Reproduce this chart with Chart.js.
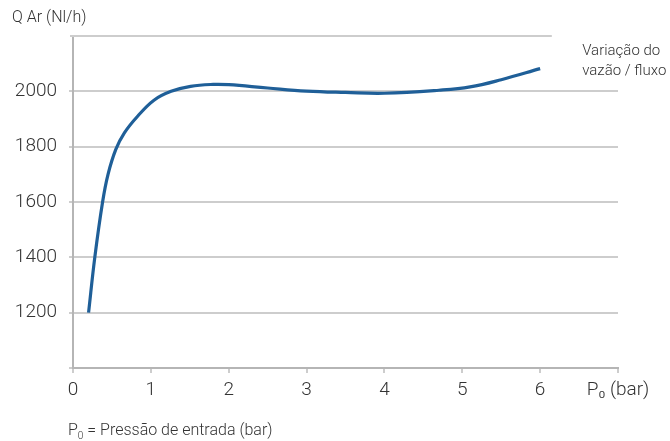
<!DOCTYPE html>
<html>
<head>
<meta charset="utf-8">
<script src="https://cdn.jsdelivr.net/npm/chart.js@4"></script>
<style>
  body { margin: 0; background: #fff; }
  #wrap { width: 670px; height: 441px; }
</style>
</head>
<body>
<div id="wrap"><canvas id="myChart" width="670" height="441"></canvas></div>
<script>
// pressure P0 (bar) vs air flow Q (Nl/h)
const pressure = [0.2, 0.28, 0.38, 0.45, 0.55, 0.66, 0.83, 1.04, 1.26, 1.51, 1.8, 2, 2.5, 3, 3.5, 4, 4.7, 5.1, 5.5, 6]
const flow = [1200, 1400, 1600, 1700, 1790, 1850, 1910, 1968, 2000, 2018, 2025, 2024, 2012, 2001, 1996, 1993, 2004, 2016, 2042, 2082]
const yLabels = [1200, 1400, 1600, 1800, 2000]
const xLabels = [0, 1, 2, 3, 4, 5, 6]
const xUnit = 'P₀ (bar)'
const yTitle = 'Q Ar (Nl/h)'
const noteLines = ['Variação do', 'vazão / fluxo']
const footNote = ' = Pressão de entrada (bar)'

const font = 'Roboto, "Liberation Sans", sans-serif'
const gridColor = '#cdcdcd'

var extras = {
  id: 'extras',
  afterDraw(chart) {
    const ctx = chart.ctx
    const area = chart.chartArea
    const x = chart.scales.x
    const y = chart.scales.y
    ctx.save()
    // top grid line stops short of the note
    const yTop = y.getPixelForValue(2200)
    ctx.strokeStyle = gridColor
    ctx.lineWidth = 2
    ctx.beginPath()
    ctx.moveTo(area.left - 3, yTop)
    ctx.lineTo(x.getPixelForValue(6.15), yTop)
    ctx.stroke()

    ctx.fillStyle = '#333'
    ctx.textBaseline = 'middle'
    ctx.textAlign = 'left'
    ctx.font = '300 16px ' + font
    ctx.fillText(yTitle, 12, 18)

    const nx = x.getPixelForValue(6.54)
    ctx.font = '300 15px ' + font
    ctx.fillText(noteLines[0], nx, 51)
    ctx.fillText(noteLines[1], nx, 71)

    // footnote with subscript 0
    ctx.font = '300 16px ' + font
    ctx.fillText('P', 68, 431)
    let w = ctx.measureText('P').width
    ctx.font = '300 10px ' + font
    ctx.fillText('0', 68 + w, 436)
    let w2 = ctx.measureText('0').width
    ctx.font = '300 16px ' + font
    ctx.fillText(footNote, 68 + w + w2, 431)
    ctx.restore()
  }
}

var ctx = document.getElementById('myChart').getContext('2d')

var myChart = new Chart(ctx, {
  type: 'line',
  data: {
    datasets: [{
      data: pressure.map((p, i) => ({ x: p, y: flow[i] })),
      borderColor: '#1f5f98',
      borderWidth: 3.2,
      pointRadius: 0,
      fill: false,
      tension: 0.4
    }]
  },
  options: {
    responsive: false,
    animation: false,
    layout: { padding: { left: 3, right: 52, top: 36, bottom: 41 } },
    plugins: { legend: { display: false }, tooltip: { enabled: false } },
    scales: {
      x: {
        type: 'linear',
        min: 0,
        max: 7,
        afterFit: a => { a.height = 32 },
        grid: { drawOnChartArea: false, drawTicks: true, tickLength: 5, color: gridColor, lineWidth: 2 },
        border: { color: '#b5b5b5', width: 2 },
        ticks: {
          stepSize: 1,
          padding: 6,
          color: '#333',
          font: { family: font, size: 19, weight: '300' },
          maxRotation: 0,
          callback: v => v === 7 ? xUnit : (xLabels.includes(v) ? String(v) : '')
        }
      },
      y: {
        min: 1000,
        max: 2200,
        afterFit: a => { a.width = 70 },
        grid: { color: gridColor, lineWidth: 2, tickLength: 4 },
        border: { color: '#b5b5b5', width: 2 },
        ticks: {
          stepSize: 200,
          padding: 12,
          color: '#333',
          font: { family: font, size: 19, weight: '300' },
          callback: v => v === 2200 ? null : (yLabels.includes(v) ? String(v) : '')
        }
      }
    }
  },
  plugins: [extras]
})
</script>
</body>
</html>
